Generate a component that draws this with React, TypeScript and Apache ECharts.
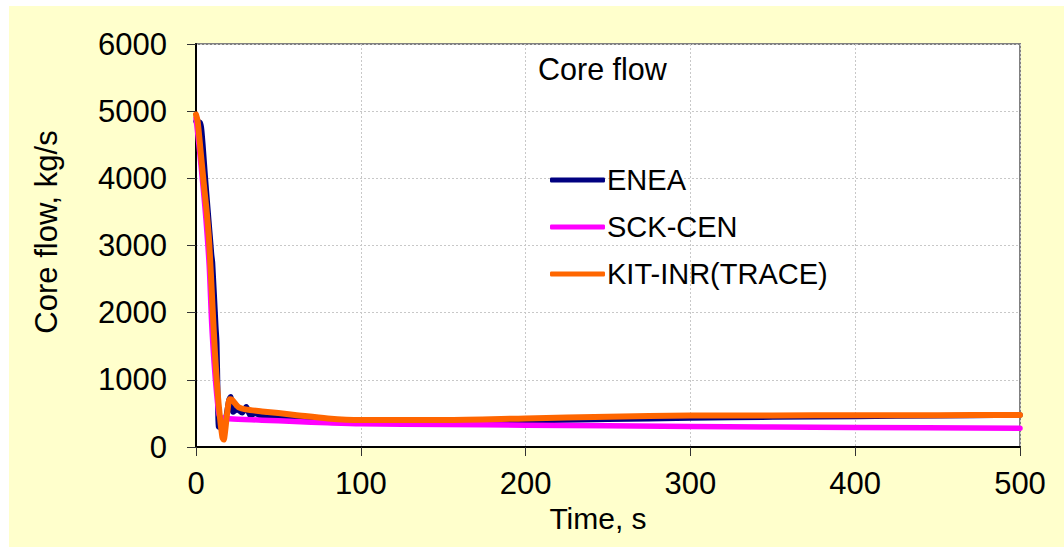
import React, { useEffect, useRef } from "react";
import * as echarts from "echarts";

const chartTitle = "Core flow";
const xAxisName = "Time, s";
const yAxisName = "Core flow, kg/s";
const seriesNames = ["ENEA", "SCK-CEN", "KIT-INR(TRACE)"];
const seriesColors = ["#000080", "#FF00FF", "#FF6600"];

const enea: [number, number][] = [
  [0, 4850], [2.5, 4830], [3.5, 4700], [6, 3900], [9, 3000], [9.5, 2850], [10, 2750],
  [12, 1800], [12.6, 1550], [13.2, 800], [13.7, 300], [16, 290], [18, 420], [20, 700],
  [21, 750], [22.5, 520], [25, 560], [28, 510], [30.5, 600], [33, 470], [36, 500],
  [40, 455], [50, 440], [60, 420], [80, 385], [100, 375], [150, 378], [200, 392],
  [250, 412], [300, 430], [350, 445], [400, 455], [450, 465], [500, 475],
];

const sckcen: [number, number][] = [
  [0, 4900], [2, 4450], [4, 3950], [6, 3400], [8, 2700], [9.5, 1850], [11, 1250],
  [12.5, 800], [14, 480], [15, 440], [17, 430], [20, 420], [40, 400], [60, 380],
  [80, 360], [100, 345], [150, 335], [200, 325], [300, 305], [400, 290], [500, 280],
];

const kitinr: [number, number][] = [
  [0, 4950], [1, 4850], [3, 4350], [5, 3850], [6.5, 3500], [8, 3050], [10, 2100],
  [11.5, 1400], [13, 850], [14.5, 450], [16, 150], [16.8, 110], [17.5, 200], [19, 520],
  [20.5, 710], [22, 700], [24, 640], [26, 590], [30, 560], [40, 530], [50, 505],
  [60, 478], [80, 425], [100, 402], [150, 402], [200, 425], [250, 450], [300, 468],
  [350, 470], [400, 472], [450, 474], [500, 476],
];

const xTicks = { min: 0, max: 500, interval: 100 };
const yTicks = { min: 0, max: 6000, interval: 1000 };

const FONT = "'Liberation Sans', Arial, sans-serif";

export default function App() {
  const ref = useRef<HTMLDivElement>(null);
  useEffect(() => {
    if (!ref.current) return;
    const chart = echarts.init(ref.current, undefined, { renderer: "svg" });
    const dataSets = [enea, sckcen, kitinr];
    chart.setOption({
      animation: false,
      backgroundColor: "#FFFFCC",
      textStyle: { fontFamily: FONT },
      title: {
        text: chartTitle,
        left: 529,
        top: 47,
        padding: 0,
        textStyle: { fontSize: 30.5, fontWeight: "normal", color: "#000", fontFamily: FONT },
      },
      legend: {
        orient: "vertical",
        left: 541,
        top: 159,
        padding: 0,
        itemGap: 17,
        itemWidth: 55,
        itemHeight: 5,
        icon: "roundRect",
        textStyle: { fontSize: 29, color: "#000", lineHeight: 30, fontFamily: FONT, padding: [0, 0, 0, -3] },
        data: seriesNames,
      },
      graphic: [
        {
          type: "text",
          x: 37,
          y: 226,
          rotation: Math.PI / 2,
          style: {
            text: yAxisName,
            fontSize: 31,
            fill: "#000",
            fontFamily: FONT,
            align: "center",
            verticalAlign: "middle",
          },
        },
      ],
      grid: {
        left: 187,
        top: 38,
        right: 44,
        bottom: 100,
        show: true,
        backgroundColor: "#FFFFFF",
        borderColor: "#808080",
        borderWidth: 2,
      },
      xAxis: {
        type: "value",
        min: xTicks.min,
        max: xTicks.max,
        interval: xTicks.interval,
        name: xAxisName,
        nameLocation: "middle",
        nameGap: 45,
        nameTextStyle: { fontSize: 30, color: "#000", fontFamily: FONT, padding: [0, 20, 0, 0] },
        axisLine: { show: true, onZero: false, lineStyle: { color: "#000", width: 2 } },
        axisTick: { show: true, inside: false, length: 9, lineStyle: { color: "#333", width: 1 } },
        axisLabel: { fontSize: 31, color: "#000", margin: 21, fontFamily: FONT },
        splitLine: { show: true, lineStyle: { color: "#c8c8c8", width: 1, type: [2, 2] } },
      },
      yAxis: {
        type: "value",
        min: yTicks.min,
        max: yTicks.max,
        interval: yTicks.interval,
        axisLine: { show: true, lineStyle: { color: "#000", width: 2 } },
        axisTick: { show: true, inside: false, length: 9, lineStyle: { color: "#333", width: 1 } },
        axisLabel: {
          fontSize: 31,
          color: "#000",
          margin: 29,
          fontFamily: FONT,
          formatter: (v: number) => String(v),
        },
        splitLine: { show: true, lineStyle: { color: "#c8c8c8", width: 1, type: [2, 2] } },
      },
      series: seriesNames.map((name, i) => ({
        name,
        type: "line",
        data: dataSets[i],
        showSymbol: false,
        symbol: "none",
        smooth: 0.3,
        color: seriesColors[i],
        lineStyle: { color: seriesColors[i], width: i === 2 ? 6 : 5.5, cap: "round", join: "round" },
        z: 2 + i,
      })),
    });
    return () => chart.dispose();
  }, []);
  return (
    <div
      ref={ref}
      style={{ position: "absolute", left: 9, top: 6, width: 1055, height: 541 }}
    />
  );
}
